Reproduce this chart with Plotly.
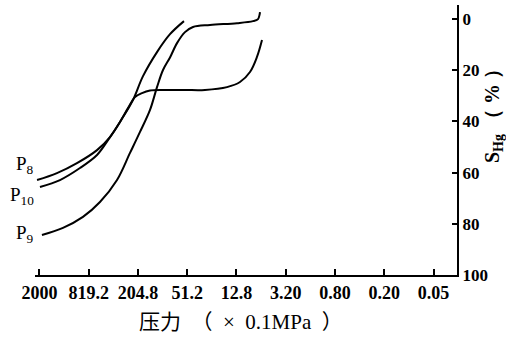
import plotly.graph_objects as go

# x positions in axis tick units (0 = 2000, 1 = 819.2, ... 8 = 0.05), y = S_Hg (%)
tick_labels = ["2000", "819.2", "204.8", "51.2", "12.8", "3.20", "0.80", "0.20", "0.05"]
y_ticks = [0, 20, 40, 60, 80, 100]

p8_x = [-0.05, 0.355, 0.761, 1.168, 1.431, 1.695, 1.898, 2.102, 2.386, 2.650, 2.934]
p8_y = [62.9, 60.2, 56.3, 51.2, 46.1, 38.3, 31.6, 22.3, 12.9, 5.9, 0.8]

p10_x = [0.01, 0.416, 0.822, 1.168, 1.391, 1.635, 1.797, 1.939, 2.081, 2.244, 2.548, 2.954, 3.360, 3.807, 4.071, 4.274, 4.416, 4.518]
p10_y = [65.6, 62.9, 58.2, 53.1, 47.3, 40.2, 34.8, 30.5, 28.9, 27.9, 27.7, 27.7, 27.7, 26.6, 24.6, 20.7, 14.8, 8.2]

p9_x = [0.05, 0.477, 0.883, 1.228, 1.574, 1.838, 2.041, 2.244, 2.386, 2.508, 2.650, 2.792, 2.954, 3.117, 3.462, 4.010, 4.335, 4.437, 4.467, 4.477]
p9_y = [84.4, 81.6, 77.3, 71.5, 62.9, 52.3, 44.1, 35.5, 26.6, 19.9, 15.0, 9.4, 5.1, 3.1, 2.3, 1.6, 0.8, 0.0, -1.6, -2.7]

series = [("P8", p8_x, p8_y), ("P10", p10_x, p10_y), ("P9", p9_x, p9_y)]

fig = go.Figure()
for name, xs, ys in series:
    fig.add_trace(go.Scatter(x=xs, y=ys, mode="lines", name=name,
                             line=dict(color="black", width=2, shape="spline", smoothing=1.0),
                             showlegend=False, cliponaxis=False))

serif = "Times New Roman, Liberation Serif, serif"
fig.update_layout(
    width=506, height=337,
    margin=dict(l=35, r=49, t=5, b=62),
    plot_bgcolor="white", paper_bgcolor="white",
    font=dict(family=serif, color="black"),
    xaxis=dict(range=[-0.091, 8.477], tickvals=list(range(len(tick_labels))), ticktext=tick_labels,
               showgrid=False, zeroline=False, showline=True, linecolor="black", linewidth=2,
               ticks="inside", ticklen=6, tickwidth=1.5, tickcolor="black",
               tickfont=dict(family=serif, size=18, color="black", weight="bold")),
    yaxis=dict(range=[100, -5.5], side="right", tickvals=y_ticks,
               showgrid=False, zeroline=False, showline=True, linecolor="black", linewidth=2,
               ticks="inside", ticklen=5, tickwidth=1.5, tickcolor="black",
               tickfont=dict(family=serif, size=17, color="black", weight="bold")),
)

labels = [("P<sub>8</sub>", 57.0), ("P<sub>10</sub>", 69.0), ("P<sub>9</sub>", 84.0)]
for txt, yv in labels:
    fig.add_annotation(x=-0.07, y=yv, xref="x", yref="y", text=txt, showarrow=False,
                       xanchor="right", yanchor="middle",
                       font=dict(family=serif, size=19, color="black"))

fig.add_annotation(x=(493 - 35) / 422, y=(275 - 111) / 270, xref="paper", yref="paper",
                   text="S<sub>Hg</sub> （ % ）",
                   showarrow=False, textangle=-90, xanchor="center", yanchor="middle",
                   font=dict(family=serif, size=20, color="black", weight="bold"))

fig.add_annotation(x=(241 - 35) / 422, y=-(322 - 275) / 270, xref="paper", yref="paper",
                   text="压力  （  ×  0.1MPa  ）",
                   showarrow=False, xanchor="center", yanchor="middle",
                   font=dict(family="Times New Roman, Liberation Serif, Noto Sans CJK SC", size=21, color="black"))

fig.write_html("out.html")
